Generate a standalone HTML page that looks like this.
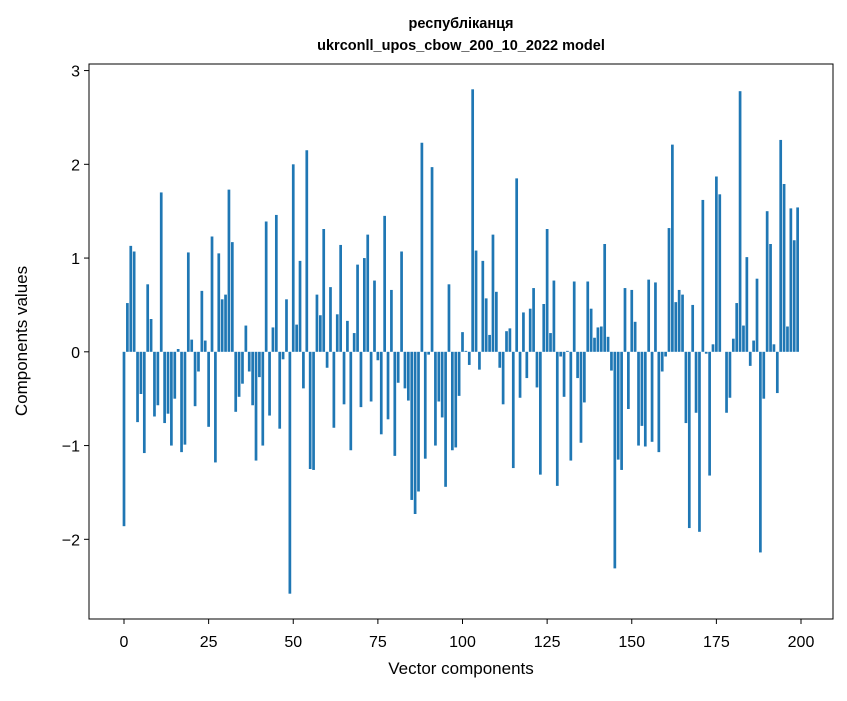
<!DOCTYPE html>
<html><head><meta charset="utf-8"><style>
body{margin:0;background:#fff;font-family:"Liberation Sans","DejaVu Sans",sans-serif;}
svg text{font-family:"Liberation Sans","DejaVu Sans",sans-serif;}
</style></head><body>
<svg id="chart" width="847" height="696"></svg>
<script>
const values=[-1.86,0.52,1.13,1.07,-0.75,-0.45,-1.08,0.72,0.35,-0.69,-0.57,1.70,-0.76,-0.66,-1.00,-0.50,0.03,-1.07,-0.99,1.06,
0.13,-0.58,-0.21,0.65,0.12,-0.80,1.23,-1.18,1.05,0.56,0.61,1.73,1.17,-0.64,-0.48,-0.34,0.28,-0.21,-0.57,-1.16,
-0.27,-1.00,1.39,-0.68,0.26,1.46,-0.82,-0.08,0.56,-2.58,2.00,0.29,0.97,-0.39,2.15,-1.25,-1.26,0.61,0.39,1.31,
-0.17,0.69,-0.81,0.40,1.14,-0.56,0.33,-1.05,0.20,0.93,-0.59,1.00,1.25,-0.53,0.76,-0.09,-0.88,1.45,-0.72,0.66,
-1.11,-0.33,1.07,-0.39,-0.52,-1.58,-1.73,-1.49,2.23,-1.14,-0.03,1.97,-1.00,-0.53,-0.70,-1.44,0.72,-1.05,-1.02,-0.47,
0.21,0.01,-0.14,2.80,1.08,-0.19,0.97,0.57,0.18,1.25,0.64,-0.17,-0.56,0.22,0.25,-1.24,1.85,-0.49,0.42,-0.28,
0.46,0.68,-0.38,-1.31,0.51,1.31,0.20,0.76,-1.43,-0.05,-0.48,0.01,-1.16,0.75,-0.28,-0.97,-0.54,0.75,0.46,0.15,
0.26,0.27,1.15,0.16,-0.20,-2.31,-1.15,-1.26,0.68,-0.61,0.66,0.32,-1.00,-0.79,-1.01,0.77,-0.96,0.74,-1.07,-0.21,
-0.05,1.32,2.21,0.53,0.66,0.61,-0.76,-1.88,0.50,-0.65,-1.92,1.62,-0.02,-1.32,0.08,1.87,1.68,0.0,-0.65,-0.49,
0.14,0.52,2.78,0.28,1.01,-0.15,0.12,0.78,-2.14,-0.50,1.50,1.15,0.08,-0.44,2.26,1.79,0.27,1.53,1.19,1.54];
const xTicks=[0,25,50,75,100,125,150,175,200];
const yTicks=[-2,-1,0,1,2,3];
const L=89,R=833,T=64,B=619,X0=-10.34,X1=209.45,Y0=-2.85,Y1=3.07;
const sx=v=>L+(v-X0)/(X1-X0)*(R-L);
const sy=v=>B-(v-Y0)/(Y1-Y0)*(B-T);
const svg=document.getElementById('chart');
const NS='http://www.w3.org/2000/svg';
function mk(t,a){const e=document.createElementNS(NS,t);for(const k in a)e.setAttribute(k,a[k]);svg.appendChild(e);return e;}
values.forEach((v,i)=>{
 const x=sx(i-0.4),w=sx(i+0.4)-sx(i-0.4);
 const y=sy(Math.max(v,0)),h=Math.abs(sy(v)-sy(0));
 const r=mk('rect',{x:x,y:y,width:w,height:Math.max(h,0.01),fill:'#1f77b4'});
 
 
});
const frame=mk('rect',{x:L,y:T,width:R-L,height:B-T,fill:'none',stroke:'#000','stroke-width':1});


xTicks.forEach(t=>{
 const x=sx(t);
 const l=mk('line',{x1:x,x2:x,y1:B,y2:B+5,stroke:'#000'});
 
 
 const tx=mk('text',{x:x,y:B+28,'text-anchor':'middle','font-size':16});
 tx.textContent=t;
 
 
});
yTicks.forEach(t=>{
 const y=sy(t);
 const l=mk('line',{x1:L-5,x2:L,y1:y,y2:y,stroke:'#000'});
 
 
 const tx=mk('text',{x:L-9,y:y+6,'text-anchor':'end','font-size':16});
 tx.textContent=(t<0?'\u2212'+(-t):t);
 
 
});
</script>
<div style="position:absolute;left:0;top:0;width:847px;height:696px;pointer-events:none">
<div style="position:absolute;left:61px;width:800px;top:13px;text-align:center;font-weight:bold;font-size:14.5px;line-height:22px">республіканця<br>ukrconll_upos_cbow_200_10_2022 model</div>
<div style="position:absolute;left:261px;width:400px;top:659px;text-align:center;font-size:17px">Vector components</div>
<div style="position:absolute;left:-178px;width:400px;top:331px;text-align:center;font-size:17px;transform:rotate(-90deg)">Components values</div>
</div>
</body></html>
